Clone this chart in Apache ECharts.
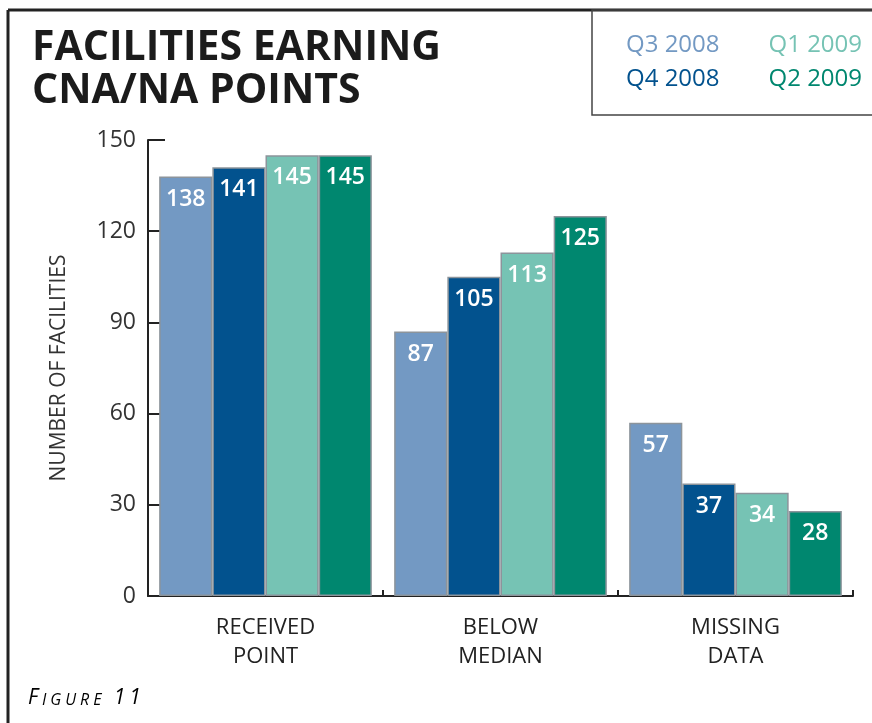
<!DOCTYPE html>
<html>
<head>
<meta charset="utf-8">
<script src="https://cdn.jsdelivr.net/npm/echarts@6/dist/echarts.min.js"></script>
<style>
  html, body { margin: 0; padding: 0; background: #fff; }
  #chart { width: 872px; height: 723px; }
</style>
</head>
<body>
<div id="chart"></div>
<script>
const categories = ['RECEIVED\nPOINT', 'BELOW\nMEDIAN', 'MISSING\nDATA']
const quarters = ['Q3 2008', 'Q4 2008', 'Q1 2009', 'Q2 2009']
const q3_2008 = [138, 87, 57]
const q4_2008 = [141, 105, 37]
const q1_2009 = [145, 113, 34]
const q2_2009 = [145, 125, 28]
const colors = ['#7399c3', '#02528e', '#76c3b4', '#00876f']

const values = [q3_2008, q4_2008, q1_2009, q2_2009]
const font = '"Open Sans", "DejaVu Sans", sans-serif'

const chart = echarts.init(document.getElementById('chart'))

// legend items coloured like their series, no symbols
function legendItem(name) {
  const i = quarters.indexOf(name)
  return { name, icon: 'none', textStyle: { color: colors[i] } }
}

const series = quarters.map((q, i) => ({
  name: q,
  type: 'bar',
  data: values[i],
  barGap: '0%',
  barCategoryGap: '9.5%',
  z: 3,
  itemStyle: {
    color: colors[i],
    borderColor: '#8c949b',
    borderWidth: 1.5,
  },
  label: {
    show: true,
    position: 'insideTop',
    distance: 11,
    color: '#fff',
    fontFamily: font,
    fontSize: 23,
    fontWeight: 600,
  },
}))

// "FIGURE 11" in spaced small caps
const figLetters = ['F', 'I', 'G', 'U', 'R', 'E', ' ', '1', '1']
const figText = figLetters.map((c, i) => (i === 0 || i > 6 ? '{a|' : '{b|') + c + '}').join('')

const option = {
  animation: false,
  color: colors,
  textStyle: { fontFamily: font },
  title: {
    text: 'FACILITIES EARNING\nCNA/NA POINTS',
    left: 27,
    top: 22,
    textStyle: {
      fontFamily: font,
      fontSize: 41,
      fontWeight: 'bold',
      color: '#1b1b1b',
      lineHeight: 43,
    },
  },
  legend: [
    {
      data: ['Q3 2008', 'Q1 2009'].map(legendItem),
      left: 616,
      top: 28,
      itemWidth: 0,
      itemHeight: 0,
      itemGap: 44,
      selectedMode: false,
      textStyle: { fontFamily: font, fontSize: 24, padding: 0 },
    },
    {
      data: ['Q4 2008', 'Q2 2009'].map(legendItem),
      left: 616,
      top: 62,
      itemWidth: 0,
      itemHeight: 0,
      itemGap: 44,
      selectedMode: false,
      textStyle: { fontFamily: font, fontSize: 24, padding: 0 },
    },
  ],
  grid: { left: 148, right: 19, top: 140, bottom: 127 },
  xAxis: {
    type: 'category',
    data: categories,
    axisLine: { lineStyle: { color: '#222', width: 2 } },
    axisTick: { show: true, inside: true, length: 6, lineStyle: { color: '#222', width: 2 } },
    axisLabel: {
      color: '#222',
      fontFamily: font,
      fontSize: 22,
      lineHeight: 29,
      margin: 17,
    },
  },
  yAxis: {
    type: 'value',
    min: 0,
    max: 150,
    interval: 30,
    name: 'NUMBER OF FACILITIES',
    nameLocation: 'middle',
    nameGap: 78,
    nameTextStyle: { color: '#333', fontFamily: font, fontSize: 21 },
    axisLine: { show: true, lineStyle: { color: '#222', width: 2 } },
    axisTick: { show: true, inside: true, length: 17, lineStyle: { color: '#222', width: 2 } },
    axisLabel: { color: '#333', fontFamily: font, fontSize: 23, margin: 12 },
    splitLine: { show: false },
  },
  graphic: [
    // outer frame
    { type: 'line', shape: { x1: 8, y1: 10, x2: 872, y2: 10 }, style: { stroke: '#222', lineWidth: 3 } },
    { type: 'line', shape: { x1: 8, y1: 10, x2: 8, y2: 723 }, style: { stroke: '#222', lineWidth: 3 } },
    // legend box
    { type: 'rect', shape: { x: 592, y: 10, width: 290, height: 105 }, style: { fill: 'none', stroke: '#444', lineWidth: 1.5 } },
    {
      type: 'text',
      left: 28,
      top: 688,
      style: {
        text: figText,
        rich: {
          a: { fontFamily: font, fontStyle: 'italic', fontSize: 21, color: '#333', padding: [0, 4, 0, 0] },
          b: { fontFamily: font, fontStyle: 'italic', fontSize: 16, color: '#333', padding: [3, 4, 0, 0] },
        },
      },
    },
  ],
  series,
}

chart.setOption(option)
</script>
</body>
</html>
